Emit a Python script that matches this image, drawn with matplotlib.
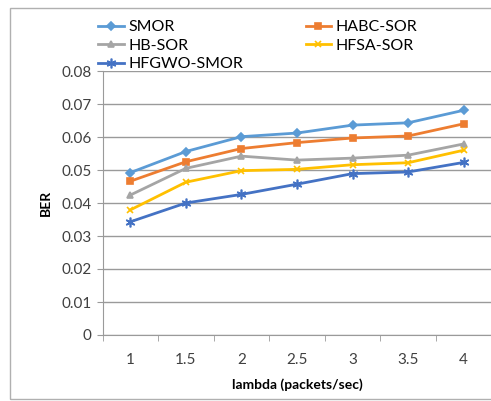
import numpy as np
import matplotlib
matplotlib.use('Agg')
import matplotlib.pyplot as plt
import matplotlib.patches as mpatches

plt.rcParams['font.family'] = ['Lato', 'DejaVu Sans']

# data
categories = ['1', '1.5', '2', '2.5', '3', '3.5', '4']
smor = [0.0492, 0.0556, 0.0601, 0.0612, 0.0636, 0.0643, 0.0681]
habc_sor = [0.0466, 0.0525, 0.0565, 0.0583, 0.0597, 0.0603, 0.0640]
hb_sor = [0.0424, 0.0505, 0.0542, 0.0530, 0.0536, 0.0545, 0.0579]
hfsa_sor = [0.0379, 0.0463, 0.0498, 0.0502, 0.0516, 0.0522, 0.0560]
hfgwo_smor = [0.0343, 0.0400, 0.0426, 0.0457, 0.0489, 0.0494, 0.0523]
y_ticks = [0, 0.01, 0.02, 0.03, 0.04, 0.05, 0.06, 0.07, 0.08]
y_labels = ['0', '0.01', '0.02', '0.03', '0.04', '0.05', '0.06', '0.07', '0.08']

fig = plt.figure(figsize=(4.91, 4.01), dpi=100)
W, H = 491, 401
# outer chart border
fig.patches.append(mpatches.Rectangle((10 / W, 1 - 399 / H), 490 / W, (399 - 8) / H,
                                      transform=fig.transFigure, fill=False,
                                      edgecolor='#b0b0b0', linewidth=1.0))

ax = fig.add_axes([102.5 / W, 1 - 335 / H, 389 / W, 264 / H])
x = np.arange(1, len(categories) + 1)

series = [
    ('SMOR', smor, '#5B9BD5', 'D', 4),
    ('HABC-SOR', habc_sor, '#ED7D31', 's', 5),
    ('HB-SOR', hb_sor, '#A5A5A5', '^', 5),
    ('HFSA-SOR', hfsa_sor, '#FFC000', 'x', 5),
    ('HFGWO-SMOR', hfgwo_smor, '#4472C4', (6, 2, 0), 7),
]
handles = {}
for name, vals, col, mk, ms in series:
    ln, = ax.plot(x, vals, color=col, linewidth=2.0, marker=mk, markersize=ms,
                  markeredgecolor=col, markerfacecolor=col, markeredgewidth=1.2, label=name)
    handles[name] = ln

ax.set_xlim(0.5, len(categories) + 0.5)
ax.set_ylim(0, 0.08)
ax.set_xticks(x)
ax.set_xticklabels(categories)
ax.set_xticks(np.arange(0.5, len(categories) + 0.6, 1), minor=True)
ax.tick_params(axis='x', which='major', length=0, pad=13, labelsize=11, colors='#404040')
ax.tick_params(axis='x', which='minor', length=4, color='#9a9a9a')
ax.set_yticks(y_ticks)
ax.set_yticklabels(y_labels)
ax.tick_params(axis='y', length=4, color='#9a9a9a', labelsize=11, colors='#404040', pad=4)
ax.grid(axis='y', color='#9a9a9a', linewidth=1.0)
ax.set_axisbelow(True)
for s in ['top', 'right']:
    ax.spines[s].set_visible(False)
for s in ['left', 'bottom']:
    ax.spines[s].set_color('#9a9a9a')

ax.set_xlabel('lambda (packets/sec)', fontsize=10, fontweight='bold', labelpad=8)
ax.set_ylabel('BER', fontsize=10, fontweight='bold', labelpad=7)

order = ['SMOR', 'HB-SOR', 'HFGWO-SMOR', 'HABC-SOR', 'HFSA-SOR']
fig.legend([handles[n] for n in order], order, ncol=2, loc='upper left',
           bbox_to_anchor=(98 / W, 1 - 20 / H), frameon=False, fontsize=11.5,
           handlelength=1.6, handletextpad=0.3, columnspacing=3.9,
           labelspacing=0.28, borderpad=0, borderaxespad=0)

fig.savefig('out.png', dpi=100)
